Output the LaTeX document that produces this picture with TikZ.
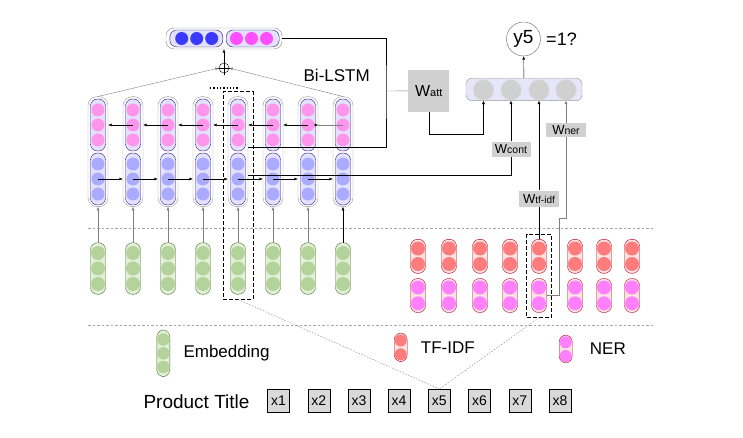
\documentclass[tikz,border=0pt]{standalone}
\usepackage{fontspec}
\setmainfont{Liberation Sans}
\usetikzlibrary{arrows.meta,fit,positioning}

\definecolor{pinkc}{RGB}{255,150,236}
\definecolor{bluec}{RGB}{170,170,255}
\definecolor{lstmfill}{RGB}{226,226,255}
\definecolor{lstmline}{RGB}{50,20,120}
\definecolor{greenc}{RGB}{180,211,155}
\definecolor{greenfill}{RGB}{226,239,217}
\definecolor{greenline}{RGB}{70,115,40}
\definecolor{tfc}{RGB}{255,124,124}
\definecolor{nerc}{RGB}{255,128,255}
\definecolor{redfill}{RGB}{253,226,226}
\definecolor{redline}{RGB}{176,0,30}
\definecolor{deepblue}{RGB}{58,58,255}
\definecolor{deeppink}{RGB}{255,80,255}
\definecolor{outfill}{RGB}{230,230,250}
\definecolor{wgray}{RGB}{208,208,208}
\definecolor{xgray}{RGB}{217,217,217}

\begin{document}
\begin{tikzpicture}[x=1pt,y=-1pt,>={Latex[length=3.5pt,width=3pt]}]
\tikzstyle{colout} = [rectangle,rounded corners=9pt,draw=black!40,fill=white,minimum width=20pt,minimum height=110pt,inner sep=0pt]
\tikzstyle{colin} = [rectangle,rounded corners=7pt,draw=lstmline,fill=lstmfill,minimum width=15pt,minimum height=52pt,inner sep=0pt]
\tikzstyle{embin} = [rectangle,rounded corners=7pt,draw=greenline,fill=greenfill,minimum width=15pt,minimum height=51.6pt,inner sep=0pt]
\tikzstyle{redin} = [rectangle,rounded corners=7pt,draw=redline,fill=redfill,minimum width=15pt,minimum height=34pt,inner sep=0pt]
\tikzstyle{dot} = [circle,inner sep=0pt,minimum size=13pt]
\tikzstyle{vecout} = [rectangle,rounded corners=8pt,draw=black!45,fill=white,inner sep=0pt]
\tikzstyle{vecin} = [rectangle,rounded corners=7pt,draw=lstmline,fill=lstmfill,minimum width=53pt,minimum height=17pt,inner sep=0pt]
\tikzstyle{wbox} = [rectangle,fill=wgray,inner sep=0pt,font=\fontsize{13}{14}\selectfont]
\tikzstyle{xbox} = [rectangle,draw=black,fill=xgray,minimum width=22pt,minimum height=23pt,inner sep=0pt,font=\fontsize{14}{16}\selectfont]
\tikzstyle{selbox} = [rectangle,draw=black,semithick,dash pattern=on 4pt off 2pt,inner sep=4.7pt]
\tikzstyle{sepline} = [gray!70,dash pattern=on 2.5pt off 2pt]
\tikzstyle{guideline} = [gray,dash pattern=on 1.5pt off 1.5pt]
\tikzstyle{lbl} = [font=\fontsize{17}{19}\selectfont]

\useasboundingbox (0,0) rectangle (743,438);

% separators
\draw[sepline] (88,227.7) -- (653,227.7);
\draw[sepline] (88,325) -- (653,325);

% embeddings and Bi-LSTM columns
\foreach \i/\x in {1/98,2/133,3/168,4/203,5/238,6/273,7/308,8/343} {
  \node[colout](lstm\i) at (\x,151.7) {};
  \node[colin](bw\i) at (\x,125) {};
  \node[colin](fw\i) at (\x,179) {};
  \foreach \k/\y in {1/110,2/125,3/140} \node[dot,fill=pinkc](bw\i-\k) at (\x,\y) {};
  \foreach \k/\y in {1/164,2/179,3/194} \node[dot,fill=bluec](fw\i-\k) at (\x,\y) {};
  \node[embin](emb\i) at (\x,268.5) {};
  \foreach \k/\y in {1/253,2/268.5,3/284} \node[dot,fill=greenc,minimum size=14pt](emb\i-\k) at (\x,\y) {};
}
\foreach \i in {1,...,7} \draw[->,gray] (emb\i) -- (lstm\i);
\draw[->] (emb8) -- (lstm8);
\foreach \i [count=\j from 2] in {1,...,7} {
  \draw[->] (fw\i.center) -- (fw\j.center -| lstm\j.west);
}
\foreach \i [count=\j from 2] in {1,...,6} {
  \draw[->] (bw\j.center) -- (bw\i.center -| lstm\i.east);
}
\draw[gray] (bw8.center) -- (bw7.center -| lstm7.east);
\draw[->] ([xshift=-2pt]bw7.center -| lstm7.east) -- (bw7.center -| lstm7.east);

% tf-idf and ner columns
\foreach \i/\x in {1/418,2/449,3/480,4/510,5/539,6/575,7/604,8/632} {
  \node[redin](tf\i) at (\x,256.3) {};
  \node[dot,fill=tfc,minimum size=14pt](tf\i-1) at (\x,248.5) {};
  \node[dot,fill=tfc,minimum size=14pt](tf\i-2) at (\x,264) {};
  \node[redin](ner\i) at (\x,295.5) {};
  \node[dot,fill=nerc,minimum size=14pt](ner\i-1) at (\x,287.5) {};
  \node[dot,fill=nerc,minimum size=14pt](ner\i-2) at (\x,303.3) {};
}

\node[selbox,fit=(lstm5)(emb5)](sel1) {};
\node[selbox,fit=(tf5)(ner5)](sel2) {};
\draw[line width=1.3pt,dash pattern=on 1.3pt off 2pt] (210,88) -- (238,88);

% concatenated vector
\node[vecout,minimum width=116pt,minimum height=21pt](concat) at (224,38.5) {};
\node[vecin](cblue) at (196.3,38.5) {};
\node[vecin](cpink) at (252.7,38.5) {};
\foreach \k/\x in {1/181.7,2/196.7,3/211.7} \node[dot,fill=deepblue](cb\k) at (\x,38.5) {};
\foreach \k/\x in {1/236.5,2/251.5,3/266.5} \node[dot,fill=deeppink](cp\k) at (\x,38.5) {};

\node[circle,draw,inner sep=0pt,minimum size=10pt](plus) at (224,68) {};
\draw ([yshift=1.5pt]plus.north) -- ([yshift=-1.5pt]plus.south) ([xshift=-1.5pt]plus.west) -- ([xshift=1.5pt]plus.east);
\draw[->,gray] (lstm1.north) -- (plus.west);
\draw[->,gray] (lstm8.north) -- (plus.east);
\draw[->] (plus) -- (concat);
\node[lbl](bilstm) at (336.7,75) {Bi-LSTM};

% attention and output
\node[rectangle,rounded corners=6pt,draw=black!40,fill=outfill,minimum width=116pt,minimum height=22.4pt](out) at (524,89.5) {};
\foreach \k/\x in {1/483.5,2/511,3/539,4/566} \node[dot,fill=wgray,draw=black!12,minimum size=20.7pt](o\k) at (\x,90) {};
\node[circle,draw=black!60,minimum size=34pt,inner sep=0pt,font=\fontsize{19}{20}\selectfont](y5) at (523.5,39) {y5};
\node[font=\fontsize{18}{20}\selectfont,right=2pt of y5](eq) {=1?};
\draw[->] (out) -- (y5);

\coordinate (attin) at (386,91);
\draw (concat.east) -| (attin) |- ([yshift=4pt]lstm5.east);
\node[wbox,minimum width=41pt,minimum height=42pt,font=\fontsize{16}{18}\selectfont](watt) at (428.7,90.8) {W{\fontsize{11}{12}\selectfont att}};
\draw[gray] (attin) -- (watt);
\draw[->] (watt.south) |- ([yshift=-34pt]o1.south) -- (o1.south);

\node[wbox,minimum width=39pt,minimum height=15.6pt](wcont) at (511,149.5) {W{\fontsize{10.5}{11}\selectfont cont}};
\draw ([yshift=-23.3pt]lstm5.east) -| (wcont.south);
\draw[->] (wcont) -- (o2);

\node[wbox,minimum width=40pt,minimum height=16pt](wtfidf) at (539,198.7) {W{\fontsize{10}{11}\selectfont tf-idf}};
\draw (tf5) -- (wtfidf);
\draw[->] (wtfidf) -- (o3);

\node[wbox,minimum width=40pt,minimum height=14pt](wner) at (566,130.3) {W{\fontsize{10.5}{11}\selectfont ner}};
\coordinate (nerbend) at (559,218.3);
\draw[gray] (ner5.east) -| (nerbend) -| (wner.south);
\draw[->,gray] (wner) -- (o4);

% legend
\node[embin,minimum width=13pt,minimum height=46.7pt](legemb) at (163.3,353.3) {};
\foreach \k/\y in {1/339.5,2/353.3,3/367} \node[dot,fill=greenc,minimum size=12.5pt](legemb-\k) at (163.3,\y) {};
\node[lbl,right=10pt of legemb](legembtxt) {Embedding};
\node[redin,minimum width=13pt,minimum height=28.7pt](legtf) at (400.7,347.3) {};
\node[dot,fill=tfc,minimum size=12pt](legtf-1) at (400.7,340.5) {};
\node[dot,fill=tfc,minimum size=12pt](legtf-2) at (400.7,354.3) {};
\node[lbl,right=10pt of legtf](legtftxt) {TF-IDF};
\node[redin,minimum width=13pt,minimum height=28pt](legner) at (565.7,349) {};
\node[dot,fill=nerc,minimum size=12pt](legner-1) at (565.7,342.3) {};
\node[dot,fill=nerc,minimum size=12pt](legner-2) at (565.7,356) {};
\node[lbl,right=14pt of legner](legnertxt) {NER};

% product title
\node[font=\fontsize{19}{21}\selectfont,anchor=west](ptitle) at (140,401.5) {Product Title};
\foreach \i in {1,...,8} \node[xbox](x\i) at ({278.5+40.2*(\i-1)},400.7) {x\i};
\draw[guideline] (sel1.south) -- (x5.north);
\draw[guideline] (sel2.south) -- (x5.north);
\end{tikzpicture}
\end{document}
